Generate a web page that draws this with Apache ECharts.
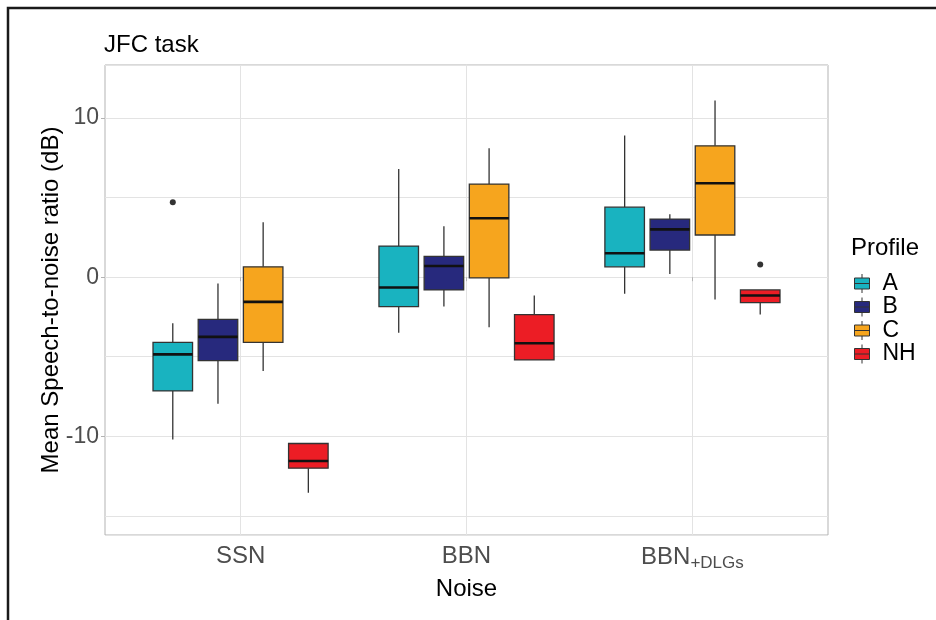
<!DOCTYPE html>
<html>
<head>
<meta charset="utf-8">
<title>JFC task</title>
<script src="https://cdn.jsdelivr.net/npm/echarts@6/dist/echarts.min.js"></script>
<style>
  html, body { margin: 0; padding: 0; background: #fff; }
  #chart { width: 936px; height: 620px; }
</style>
</head>
<body>
<div id="chart"></div>
<script>
// Noise conditions along the x axis and hearing profiles (one boxplot series each)
const noiseLevels = ['SSN', 'BBN', 'BBN+DLGs'];
const profiles = ['A', 'B', 'C', 'NH'];
const profileColors = ['#19b3c0', '#27297d', '#f6a51e', '#ec1d25'];

// Box statistics per noise condition: [lower whisker, Q1, median, Q3, upper whisker] in dB
const statsA  = [[-10.2, -7.15, -4.85, -4.1, -2.9], [-3.5, -1.85, -0.65, 1.95, 6.8], [-1.05, 0.65, 1.5, 4.4, 8.9]];
const statsB  = [[-7.95, -5.25, -3.75, -2.65, -0.4], [-1.85, -0.8, 0.7, 1.3, 3.2], [0.2, 1.7, 3.0, 3.65, 3.95]];
const statsC  = [[-5.9, -4.1, -1.55, 0.65, 3.45], [-3.15, -0.05, 3.7, 5.85, 8.1], [-1.4, 2.65, 5.9, 8.25, 11.1]];
const statsNH = [[-13.55, -12.0, -11.55, -10.45, -10.45], [-5.2, -5.2, -4.15, -2.35, -1.15], [-2.35, -1.6, -1.15, -0.8, -0.8]];
const profileStats = [statsA, statsB, statsC, statsNH];

// Outlying points: profile, noise condition, value (dB)
const outlierProfile = ['A', 'NH'];
const outlierNoise = ['SSN', 'BBN+DLGs'];
const outlierValue = [4.7, 0.8];

// Y axis tick labels
const yTickLabels = [-10, 0, 10];

const FONT = 'Liberation Sans, Arial, sans-serif';
const slotWidth = 0.2;   // dodge spacing between profiles, in x units
const boxWidth = 0.175;  // box width, in x units

function dodgeX(noiseIdx, profileIdx) {
  return noiseIdx + 1 + (profileIdx - (profiles.length - 1) / 2) * slotWidth;
}

function renderBox(params, api) {
  const p = params.seriesIndex;
  const g = api.value(0);
  const xc = dodgeX(g, p);
  const lo = api.value(1), q1 = api.value(2), med = api.value(3), q3 = api.value(4), hi = api.value(5);
  const cx = api.coord([xc, med])[0];
  const half = api.size([boxWidth, 0])[0] / 2;
  const yLo = api.coord([xc, lo])[1];
  const yQ1 = api.coord([xc, q1])[1];
  const yMed = api.coord([xc, med])[1];
  const yQ3 = api.coord([xc, q3])[1];
  const yHi = api.coord([xc, hi])[1];
  const edge = { stroke: '#333', lineWidth: 1.3 };
  return {
    type: 'group',
    children: [
      { type: 'line', shape: { x1: cx, y1: yHi, x2: cx, y2: yQ3 }, style: edge },
      { type: 'line', shape: { x1: cx, y1: yQ1, x2: cx, y2: yLo }, style: edge },
      { type: 'rect', shape: { x: cx - half, y: yQ3, width: 2 * half, height: yQ1 - yQ3 },
        style: { fill: api.visual('color'), stroke: '#333', lineWidth: 1.3 } },
      { type: 'line', shape: { x1: cx - half, y1: yMed, x2: cx + half, y2: yMed },
        style: { stroke: '#111', lineWidth: 2.6 } }
    ]
  };
}

const boxSeries = profiles.map((name, p) => ({
  name: name,
  type: 'custom',
  renderItem: renderBox,
  itemStyle: { color: profileColors[p] },
  encode: { x: 0, y: [1, 2, 3, 4, 5] },
  data: profileStats[p].map((s, i) => [i].concat(s)),
  z: 3
}));

const outlierSeries = {
  type: 'scatter',
  symbol: 'circle',
  symbolSize: 6,
  itemStyle: { color: '#000' },
  silent: true,
  data: outlierValue.map((v, i) => [
    dodgeX(noiseLevels.indexOf(outlierNoise[i]), profiles.indexOf(outlierProfile[i])), v
  ]),
  z: 4
};

const yMin = -16.2, yMax = 13.33;

const option = {
  animation: false,
  backgroundColor: '#fff',
  textStyle: { fontFamily: FONT },
  title: [
    { text: 'JFC task', left: 104, top: 33, padding: 0,
      textStyle: { fontFamily: FONT, fontSize: 24, fontWeight: 'normal', color: '#000' } },
    { text: 'Profile', left: 851, top: 236, padding: 0,
      textStyle: { fontFamily: FONT, fontSize: 24, fontWeight: 'normal', color: '#000' } }
  ],
  graphic: [
    { type: 'rect', shape: { x: 8, y: 8, width: 960, height: 640 },
      style: { fill: 'none', stroke: '#1a1a1a', lineWidth: 2.5 }, silent: true }
  ],
  legend: {
    orient: 'vertical',
    left: 854,
    top: 272,
    padding: 0,
    itemWidth: 17,
    itemHeight: 19,
    itemGap: 0.5,
    data: profiles,
    icon: 'path://M8.5,0L8.5,4M1,4L16,4L16,15L1,15ZM1,9.5L16,9.5M8.5,15L8.5,19',
    itemStyle: { borderColor: '#333', borderWidth: 1 },
    textStyle: { fontFamily: FONT, fontSize: 23, lineHeight: 23, color: '#000', padding: [0, 0, 0, 7] }
  },
  grid: {
    left: 105, top: 65, width: 723, height: 470,
    show: true, borderColor: '#b3b3b3', borderWidth: 1, backgroundColor: '#fff'
  },
  xAxis: {
    type: 'value',
    min: 0.4, max: 3.6,
    minInterval: 1, maxInterval: 1,
    name: 'Noise',
    nameLocation: 'middle',
    nameGap: 39,
    nameTextStyle: { fontFamily: FONT, fontSize: 24, color: '#000' },
    axisLine: { show: false },
    axisTick: { show: true, length: 4, customValues: [1, 2, 3], lineStyle: { color: '#b3b3b3' } },
    splitLine: { show: true, lineStyle: { color: '#e3e3e3', width: 1 } },
    axisLabel: {
      margin: 8,
      customValues: [1, 2, 3],
      fontFamily: FONT, fontSize: 24, color: '#4d4d4d',
      formatter: function (v) {
        const i = Math.round(v) - 1;
        if (Math.abs(v - Math.round(v)) > 1e-6 || !noiseLevels[i]) return '';
        const name = noiseLevels[i];
        if (name.indexOf('+') > 0) {
          const parts = name.split('+');
          return '{m|' + parts[0] + '}{s|+' + parts[1] + '}';
        }
        return '{m|' + name + '}';
      },
      rich: {
        m: { fontFamily: FONT, fontSize: 24, color: '#4d4d4d', lineHeight: 26 },
        s: { fontFamily: FONT, fontSize: 17, color: '#4d4d4d', padding: [12, 0, 0, 0] }
      }
    }
  },
  yAxis: [
    {
      type: 'value',
      min: yMin, max: yMax,
      minInterval: 5, maxInterval: 5,
      axisLine: { show: false },
      axisTick: { show: false },
      axisLabel: { show: false },
      splitLine: { show: true, lineStyle: { color: '#e3e3e3', width: 1 } }
    },
    {
      type: 'value',
      min: yMin, max: yMax,
      minInterval: 10, maxInterval: 10,
      position: 'left',
      name: 'Mean Speech-to-noise ratio (dB)',
      nameLocation: 'middle',
      nameGap: 42,
      nameMoveOverlap: false,
      nameTextStyle: { fontFamily: FONT, fontSize: 24, color: '#000' },
      axisLine: { show: false },
      axisTick: { show: true, length: 4, customValues: yTickLabels, lineStyle: { color: '#b3b3b3' } },
      splitLine: { show: false },
      axisLabel: {
        margin: 6,
        customValues: yTickLabels,
        fontFamily: FONT, fontSize: 23, color: '#4d4d4d',
        formatter: function (v) {
          return yTickLabels.indexOf(Math.round(v * 1000) / 1000) >= 0 ? String(v) : '';
        }
      }
    }
  ],
  series: boxSeries.concat([outlierSeries])
};

const chart = echarts.init(document.getElementById('chart'), null, { renderer: 'canvas' });
chart.setOption(option);
</script>
</body>
</html>
